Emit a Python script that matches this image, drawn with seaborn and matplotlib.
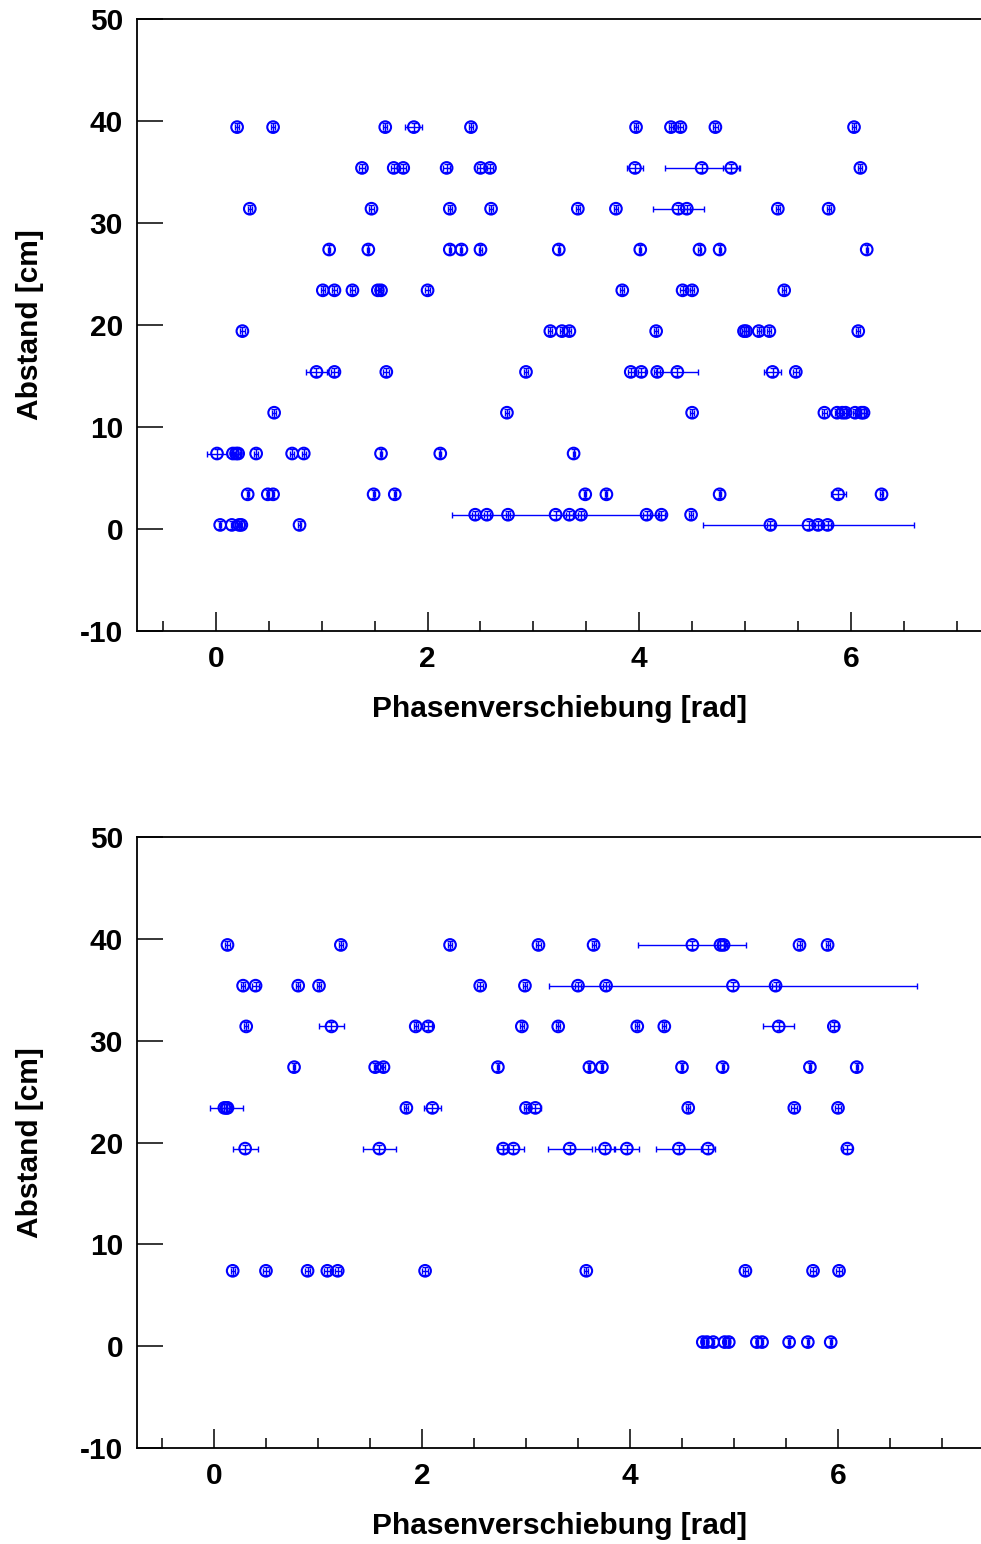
import numpy as np
import matplotlib
matplotlib.use("Agg")
import matplotlib.pyplot as plt
from matplotlib.ticker import MultipleLocator
import seaborn as sns

# Distance levels (cm) at which the phase shift was measured
levels = [39.4, 35.4, 31.4, 27.4, 23.4, 19.4, 15.4, 11.4, 7.4, 3.4, 1.4, 0.4]

# Upper measurement series: phase shift (rad) per distance level, with x uncertainty
upper_phase = {
    39.4: [0.20, 0.54, 1.60, 1.87, 2.41, 3.97, 4.30, 4.39, 4.72, 6.03],
    35.4: [1.38, 1.68, 1.77, 2.18, 2.50, 2.59, 3.96, 4.59, 4.87, 6.09],
    31.4: [0.32, 1.47, 2.21, 2.60, 3.42, 3.78, 4.37, 4.45, 5.31, 5.79],
    27.4: [1.07, 1.44, 2.21, 2.32, 2.50, 3.24, 4.01, 4.57, 4.76, 6.15],
    23.4: [1.01, 1.12, 1.29, 1.53, 1.56, 2.00, 3.84, 4.41, 4.50, 5.37],
    19.4: [0.25, 3.16, 3.27, 3.34, 4.16, 4.99, 5.01, 5.13, 5.23, 6.07],
    15.4: [0.95, 1.12, 1.61, 2.93, 3.92, 4.02, 4.17, 4.36, 5.26, 5.48],
    11.4: [0.55, 2.75, 4.50, 5.75, 5.87, 5.92, 5.95, 6.04, 6.10, 6.12],
    7.4:  [0.01, 0.16, 0.19, 0.21, 0.38, 0.72, 0.83, 1.56, 2.12, 3.38],
    3.4:  [0.30, 0.49, 0.54, 1.49, 1.69, 3.49, 3.69, 4.76, 5.88, 6.29],
    1.4:  [2.45, 2.56, 2.76, 3.21, 3.34, 3.45, 4.07, 4.21, 4.49],
    0.4:  [0.04, 0.15, 0.22, 0.24, 0.79, 5.24, 5.60, 5.69, 5.78],
}
upper_phase_err = {
    39.4: [0.02, 0.02, 0.02, 0.08, 0.02, 0.02, 0.02, 0.02, 0.02, 0.02],
    35.4: [0.03, 0.03, 0.03, 0.03, 0.03, 0.03, 0.08, 0.35, 0.08, 0.02],
    31.4: [0.02, 0.02, 0.02, 0.02, 0.02, 0.02, 0.24, 0.03, 0.02, 0.02],
    27.4: [0.01, 0.01, 0.01, 0.01, 0.01, 0.01, 0.01, 0.01, 0.01, 0.01],
    23.4: [0.02, 0.02, 0.02, 0.02, 0.02, 0.02, 0.02, 0.02, 0.02, 0.02],
    19.4: [0.02, 0.02, 0.02, 0.02, 0.02, 0.02, 0.02, 0.02, 0.02, 0.02],
    15.4: [0.10, 0.03, 0.03, 0.02, 0.03, 0.03, 0.03, 0.20, 0.08, 0.03],
    11.4: [0.02, 0.02, 0.02, 0.02, 0.02, 0.02, 0.02, 0.02, 0.02, 0.02],
    7.4:  [0.09, 0.02, 0.02, 0.02, 0.02, 0.02, 0.02, 0.01, 0.01, 0.01],
    3.4:  [0.01, 0.01, 0.01, 0.01, 0.01, 0.01, 0.01, 0.01, 0.07, 0.01],
    1.4:  [0.03, 0.03, 0.02, 0.98, 0.03, 0.03, 0.03, 0.03, 0.02],
    0.4:  [0.01, 0.01, 0.01, 0.01, 0.01, 0.03, 1.00, 0.03, 0.03],
}

# Lower measurement series
lower_phase = {
    39.4: [0.13, 1.22, 2.27, 3.12, 3.65, 4.60, 4.87, 4.90, 5.63, 5.90],
    35.4: [0.28, 0.40, 0.81, 1.01, 2.56, 2.99, 3.50, 3.77, 4.99, 5.40],
    31.4: [0.31, 1.13, 1.94, 2.06, 2.96, 3.31, 4.07, 4.33, 5.43, 5.96],
    27.4: [0.77, 1.55, 1.63, 2.73, 3.61, 3.73, 4.50, 4.89, 5.73, 6.18],
    23.4: [0.10, 0.12, 0.13, 1.85, 2.10, 3.00, 3.09, 4.56, 5.58, 6.00],
    19.4: [0.30, 1.59, 2.78, 2.88, 3.42, 3.76, 3.97, 4.47, 4.75, 6.09],
    7.4:  [0.18, 0.50, 0.90, 1.09, 1.19, 2.03, 3.58, 5.11, 5.76, 6.01],
    0.4:  [4.70, 4.74, 4.80, 4.91, 4.95, 5.22, 5.27, 5.53, 5.71, 5.93],
}
lower_phase_err = {
    39.4: [0.02, 0.02, 0.02, 0.02, 0.02, 0.52, 0.03, 0.03, 0.02, 0.02],
    35.4: [0.02, 0.03, 0.02, 0.02, 0.03, 0.02, 0.03, 0.03, 1.77, 0.03],
    31.4: [0.02, 0.12, 0.02, 0.04, 0.02, 0.02, 0.02, 0.02, 0.15, 0.04],
    27.4: [0.01, 0.01, 0.01, 0.01, 0.01, 0.01, 0.01, 0.01, 0.01, 0.01],
    23.4: [0.03, 0.16, 0.03, 0.02, 0.08, 0.02, 0.05, 0.02, 0.03, 0.03],
    19.4: [0.12, 0.16, 0.05, 0.10, 0.21, 0.10, 0.12, 0.22, 0.07, 0.04],
    7.4:  [0.02, 0.03, 0.02, 0.03, 0.03, 0.03, 0.02, 0.02, 0.03, 0.03],
    0.4:  [0.01, 0.01, 0.01, 0.01, 0.01, 0.01, 0.01, 0.01, 0.01, 0.01],
}

distance_err = 0.4
x_title = "Phasenverschiebung [rad]"
y_title = "Abstand [cm]"
y_ticks = [-10, 0, 10, 20, 30, 40, 50]
x_ticks = [0, 2, 4, 6]

sns.set_theme(style="ticks")
plt.rcParams["font.family"] = ["Liberation Sans", "DejaVu Sans"]
plt.rcParams["font.weight"] = "bold"
plt.rcParams["axes.unicode_minus"] = False
plt.rcParams["text.color"] = "black"
plt.rcParams["axes.labelcolor"] = "black"
plt.rcParams["xtick.color"] = "black"
plt.rcParams["ytick.color"] = "black"

BLUE = "#0000ff"


def flatten(phase, err):
    xs, xe, ys = [], [], []
    for lvl in levels:
        if lvl in phase:
            xs += phase[lvl]
            xe += err[lvl]
            ys += [lvl] * len(phase[lvl])
    return np.array(xs), np.array(xe), np.array(ys)


def draw_panel(ax, phase, err, xlim):
    xs, xe, ys = flatten(phase, err)
    ax.errorbar(xs, ys, xerr=xe, yerr=distance_err, fmt="none",
                ecolor=BLUE, elinewidth=1.0, capsize=2.2, capthick=1.0, zorder=2)
    sns.scatterplot(x=xs, y=ys, ax=ax, marker="o", s=70,
                    facecolor="none", edgecolor=BLUE, linewidth=1.5, zorder=3)
    ax.set_xlim(*xlim)
    ax.set_ylim(-10, 50)
    ax.set_yticks(y_ticks)
    ax.set_xticks(x_ticks)
    ax.xaxis.set_minor_locator(MultipleLocator(0.5))
    ax.tick_params(axis="both", which="major", direction="in", labelsize=21.5,
                   width=1.1, color="black", labelcolor="black", pad=10)
    ax.tick_params(axis="y", which="major", length=19)
    ax.tick_params(axis="x", which="major", length=14)
    ax.tick_params(axis="x", which="minor", direction="in", length=7, width=1.1,
                   color="black")
    for lab in ax.get_xticklabels() + ax.get_yticklabels():
        lab.set_fontweight("bold")
    ax.set_xlabel(x_title, fontsize=21.5, fontweight="bold", labelpad=16, color="black")
    ax.set_ylabel(y_title, fontsize=21.5, fontweight="bold", labelpad=26, color="black")
    for side in ("left", "bottom", "top"):
        ax.spines[side].set_linewidth(1.3)
        ax.spines[side].set_color("black")
    ax.spines["right"].set_visible(False)


fig = plt.figure(figsize=(9.81, 15.44), dpi=100)
ax_top = fig.add_axes([137 / 981, 1 - 631 / 1544, 1 - 137 / 981, (631 - 19) / 1544])
ax_bot = fig.add_axes([137 / 981, 1 - 1448 / 1544, 1 - 137 / 981, (1448 - 837) / 1544])

draw_panel(ax_top, upper_phase, upper_phase_err, (-0.746, 7.23))
draw_panel(ax_bot, lower_phase, lower_phase_err, (-0.74, 7.375))

fig.savefig("out.png", dpi=100, facecolor="white")
